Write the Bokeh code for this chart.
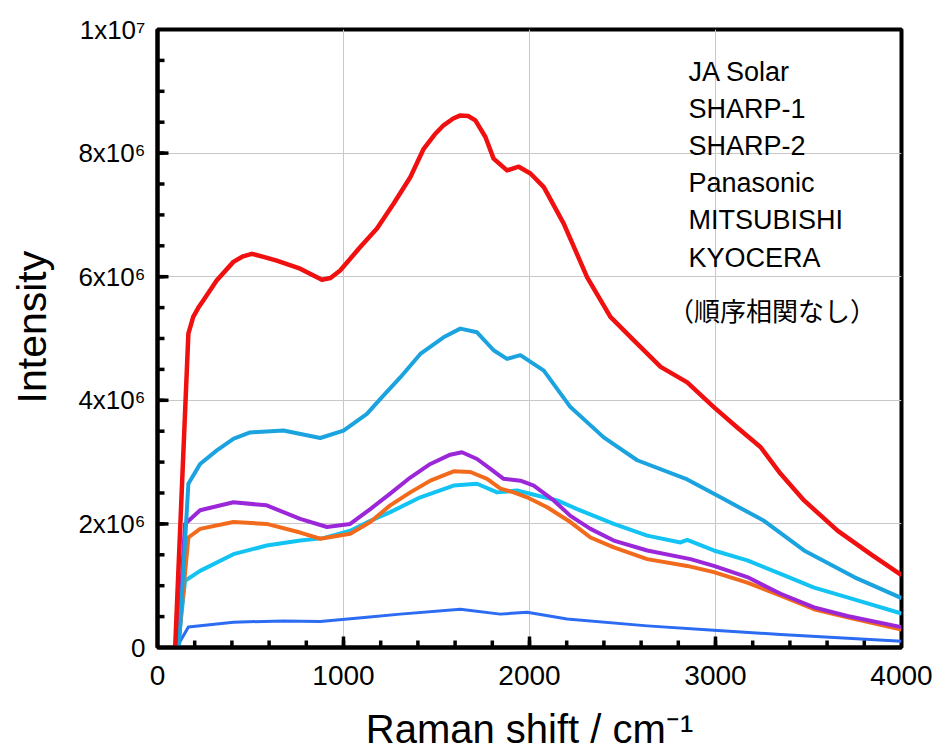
from bokeh.plotting import figure
from bokeh.models import Range1d, FixedTicker, Label
from bokeh.embed import file_html
from bokeh.resources import INLINE

SCALE = 1e6  # intensities below are in units of 1e6

red_x = [95, 166, 192, 220, 247, 318, 408, 460, 507, 570, 641, 767, 884, 930, 982, 1090, 1180, 1269, 1359, 1431,
         1490, 1538, 1590, 1628, 1670, 1709, 1763, 1807, 1879, 1942, 2005, 2077, 2184, 2310, 2435, 2561, 2705,
         2848, 2991, 3117, 3243, 3350, 3476, 3656, 3834, 4000]
red_y = [0.0, 5.08, 5.35, 5.50, 5.62, 5.94, 6.24, 6.33, 6.37, 6.32, 6.26, 6.13, 5.95, 5.98, 6.10, 6.48, 6.78,
         7.18, 7.61, 8.07, 8.30, 8.45, 8.56, 8.61, 8.60, 8.53, 8.26, 7.91, 7.72, 7.78, 7.67, 7.45, 6.86, 5.99,
         5.35, 4.97, 4.54, 4.29, 3.89, 3.56, 3.24, 2.81, 2.38, 1.89, 1.51, 1.17]

sky_x = [115, 166, 229, 319, 410, 498, 677, 875, 1000, 1126, 1197, 1305, 1413, 1538, 1628, 1718, 1807, 1879, 1951,
         2077, 2220, 2399, 2579, 2848, 3027, 3261, 3476, 3745, 4000]
sky_y = [0.0, 2.65, 2.97, 3.19, 3.38, 3.48, 3.51, 3.39, 3.51, 3.78, 4.02, 4.37, 4.75, 5.02, 5.16, 5.10, 4.81, 4.67,
         4.73, 4.48, 3.89, 3.40, 3.03, 2.72, 2.43, 2.05, 1.57, 1.14, 0.80]

purple_x = [110, 148, 229, 408, 587, 767, 911, 1036, 1144, 1251, 1359, 1467, 1574, 1637, 1718, 1790, 1861, 1951,
            2023, 2130, 2220, 2328, 2453, 2633, 2866, 2991, 3171, 3350, 3530, 3709, 4000]
purple_y = [0.0, 2.00, 2.22, 2.35, 2.30, 2.08, 1.95, 2.00, 2.24, 2.49, 2.75, 2.97, 3.12, 3.16, 3.05, 2.89, 2.73,
            2.70, 2.62, 2.38, 2.13, 1.92, 1.73, 1.57, 1.43, 1.32, 1.14, 0.87, 0.65, 0.51, 0.33]

orange_x = [110, 166, 229, 408, 587, 767, 875, 1036, 1144, 1251, 1359, 1467, 1592, 1682, 1772, 1844, 1915, 1987,
            2095, 2220, 2328, 2453, 2633, 2848, 2991, 3171, 3350, 3530, 3709, 4000]
orange_y = [0.0, 1.78, 1.92, 2.03, 2.00, 1.86, 1.76, 1.84, 2.03, 2.30, 2.51, 2.70, 2.85, 2.84, 2.73, 2.57, 2.51,
            2.43, 2.27, 2.03, 1.78, 1.62, 1.43, 1.32, 1.22, 1.05, 0.84, 0.62, 0.49, 0.29]

cyan_x = [110, 148, 229, 408, 587, 767, 892, 1036, 1144, 1251, 1413, 1592, 1718, 1826, 1933, 2041, 2149, 2256,
          2453, 2633, 2812, 2848, 2991, 3171, 3350, 3530, 3709, 4000]
cyan_y = [0.0, 1.08, 1.24, 1.51, 1.65, 1.73, 1.77, 1.89, 2.05, 2.19, 2.43, 2.62, 2.65, 2.51, 2.54, 2.46, 2.38,
          2.24, 2.00, 1.81, 1.70, 1.74, 1.57, 1.41, 1.19, 0.97, 0.81, 0.55]

royal_x = [103, 166, 408, 677, 875, 1126, 1305, 1628, 1843, 1987, 2202, 2633, 2991, 3350, 4000]
royal_y = [0.0, 0.33, 0.41, 0.43, 0.42, 0.49, 0.54, 0.62, 0.54, 0.57, 0.46, 0.35, 0.28, 0.21, 0.10]

legend_names = ["JA Solar", "SHARP-1", "SHARP-2", "Panasonic", "MITSUBISHI", "KYOCERA"]
legend_note = "（順序相関なし）"
x_title = "Raman shift / cm⁻¹"
y_title = "Intensity"

x_ticks = [0, 1000, 2000, 3000, 4000]
x_minor = list(range(200, 4000, 200))
y_ticks = [0, 2e6, 4e6, 6e6, 8e6, 1e7]
y_minor = [i * 5e5 for i in range(1, 20)]
y_tick_labels = ["0", "2x10⁶", "4x10⁶", "6x10⁶", "8x10⁶", "1x10⁷"]

FONT = "Liberation Sans"
XMAX, YMAX = 4000, 1e7

p = figure(width=935, height=754, output_backend="svg", toolbar_location=None,
           x_range=Range1d(0, XMAX), y_range=Range1d(0, YMAX),
           min_border_left=157, min_border_right=34, min_border_top=29, min_border_bottom=107)
p.background_fill_color = "white"
p.border_fill_color = "white"
p.outline_line_color = "black"
p.outline_line_width = 4

p.xaxis.ticker = FixedTicker(ticks=x_ticks, minor_ticks=[])
p.yaxis.ticker = FixedTicker(ticks=y_ticks, minor_ticks=[])
p.yaxis.major_label_overrides = {t: s for t, s in zip(y_ticks, y_tick_labels)}

for ax in (p.xaxis, p.yaxis):
    ax.axis_line_width = 4
    ax.axis_line_color = "black"
    ax.major_tick_in = 0
    ax.major_tick_out = 0
    ax.minor_tick_in = 0
    ax.minor_tick_out = 0
    ax.major_label_text_font = FONT
    ax.major_label_text_color = "black"
    ax.axis_label_text_font = FONT
    ax.axis_label_text_font_style = "normal"
    ax.axis_label_text_color = "black"

p.xaxis.major_label_text_font_size = "28px"
p.yaxis.major_label_text_font_size = "26px"
p.xaxis.major_label_standoff = 18
p.yaxis.major_label_standoff = 12
# two leading no-break spaces nudge the rotated title slightly upward, as in the reference
p.yaxis.axis_label = "\u00a0\u00a0" + y_title
p.yaxis.axis_label_text_font_size = "41px"
p.yaxis.axis_label_standoff = 20
p.xaxis.axis_label = x_title
p.xaxis.axis_label_text_font_size = "40px"
p.xaxis.axis_label_standoff = 19

p.xgrid.grid_line_color = "#c8c8c8"
p.ygrid.grid_line_color = "#c8c8c8"
p.xgrid.grid_line_width = 1
p.ygrid.grid_line_width = 1

# inward tick marks (drawn as segments from the tick lists)
frame_w_px, frame_h_px = 744, 618
xlen_major = 11 * XMAX / frame_w_px
xlen_minor = 7 * XMAX / frame_w_px
ylen_major = 11 * YMAX / frame_h_px
ylen_minor = 7 * YMAX / frame_h_px
xt_major = x_ticks[1:-1]
yt_major = y_ticks[1:-1]
tick_x0 = xt_major + x_minor + [0] * len(yt_major) + [0] * len(y_minor)
tick_x1 = xt_major + x_minor + [xlen_major] * len(yt_major) + [xlen_minor] * len(y_minor)
tick_y0 = [0] * len(xt_major) + [0] * len(x_minor) + yt_major + y_minor
tick_y1 = [ylen_major] * len(xt_major) + [ylen_minor] * len(x_minor) + yt_major + y_minor
p.segment(x0=tick_x0, y0=tick_y0, x1=tick_x1, y1=tick_y1,
          line_color="black", line_width=3.5, level="overlay")

series = [
    (royal_x, royal_y, "#2B6CF2", 3),
    (cyan_x, cyan_y, "#12C3F3", 4),
    (orange_x, orange_y, "#F26A1B", 4),
    (purple_x, purple_y, "#9B27D9", 4),
    (sky_x, sky_y, "#1AA3DF", 4),
    (red_x, red_y, "#F01010", 4.5),
]
for xs, ys, col, lw in series:
    p.line(xs, [v * SCALE for v in ys], line_color=col, line_width=lw, line_join="round")

# legend-like text block (no markers in the original)
leg_x = 2855
leg_y0 = 9.31e6
leg_step = 0.6e6
for i, name in enumerate(legend_names):
    p.add_layout(Label(x=leg_x, y=leg_y0 - i * leg_step, text=name, text_font=FONT,
                       text_font_size="27px", text_color="black", text_baseline="alphabetic"))
p.add_layout(Label(x=2745, y=5.47e6, text=legend_note, text_font="Noto Sans CJK JP",
                   text_font_size="26px", text_color="black", text_baseline="middle"))

open("out.html", "w").write(file_html(p, INLINE))
